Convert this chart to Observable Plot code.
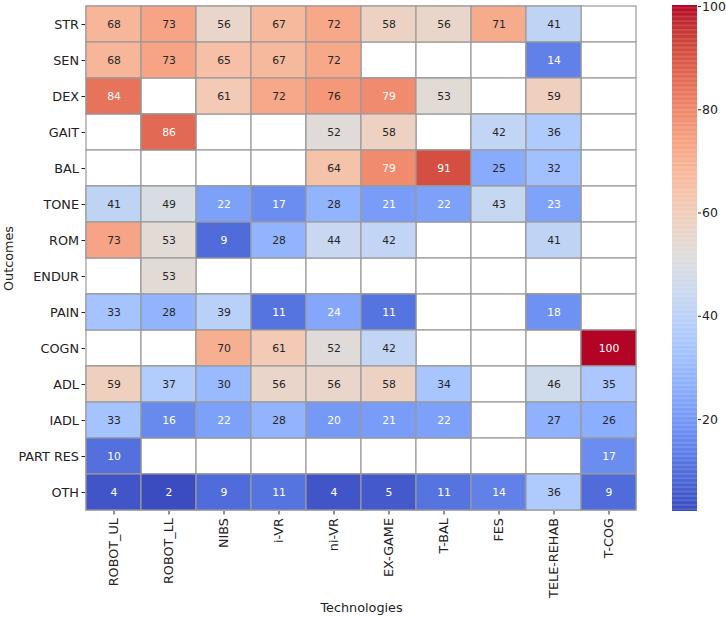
<!DOCTYPE html>
<html><head><meta charset="utf-8">
<script src="https://cdn.jsdelivr.net/npm/d3@7"></script>
<script src="https://cdn.jsdelivr.net/npm/@observablehq/plot@0.6"></script>
<style>
body{margin:0;background:#fff;font-family:"DejaVu Sans",sans-serif}
#wrap{position:relative;width:726px;height:617px}
#wrap svg{position:absolute;top:0}
</style>
</head><body><div id="wrap"></div><script>
const technologies = ["ROBOT_UL","ROBOT_LL","NIBS","i-VR","ni-VR","EX-GAME","T-BAL","FES","TELE-REHAB","T-COG"];
const outcomes = ["STR","SEN","DEX","GAIT","BAL","TONE","ROM","ENDUR","PAIN","COGN","ADL","IADL","PART RES","OTH"];
const STR   = [68,73,56,67,72,58,56,71,41,null];
const SEN   = [68,73,65,67,72,null,null,null,14,null];
const DEX   = [84,null,61,72,76,79,53,null,59,null];
const GAIT  = [null,86,null,null,52,58,null,42,36,null];
const BAL   = [null,null,null,null,64,79,91,25,32,null];
const TONE  = [41,49,22,17,28,21,22,43,23,null];
const ROM   = [73,53,9,28,44,42,null,null,41,null];
const ENDUR = [null,53,null,null,null,null,null,null,null,null];
const PAIN  = [33,28,39,11,24,11,null,null,18,null];
const COGN  = [null,null,70,61,52,42,null,null,null,100];
const ADL   = [59,37,30,56,56,58,34,null,46,35];
const IADL  = [33,16,22,28,20,21,22,null,27,26];
const PART_RES = [10,null,null,null,null,null,null,null,null,17];
const OTH   = [4,2,9,11,4,5,11,14,36,9];
const rows = [STR,SEN,DEX,GAIT,BAL,TONE,ROM,ENDUR,PAIN,COGN,ADL,IADL,PART_RES,OTH];
const colorTicks = [20,40,60,80,100];

// matplotlib "coolwarm" colormap stops
const coolwarm = [[59,76,192],[68,90,204],[77,104,215],[87,117,225],[98,130,234],[108,142,241],[119,154,247],[130,165,251],[141,176,254],[152,185,255],[163,194,255],[174,201,253],[184,208,249],[194,213,244],[204,217,238],[213,219,230],[221,221,221],[229,216,209],[236,211,197],[241,204,185],[245,196,173],[247,187,160],[247,177,148],[247,166,135],[244,154,123],[241,141,111],[236,127,99],[229,112,88],[222,96,77],[213,80,66],[203,62,56],[192,40,47],[180,4,38]].map(c => `rgb(${c[0]},${c[1]},${c[2]})`);
const interp = d3.piecewise(d3.interpolateRgb, coolwarm);

const table = [];
outcomes.forEach((o, i) => technologies.forEach((t, j) => table.push({outcome: o, tech: t, value: rows[i][j]})));
const filled = table.filter(d => d.value != null);

const vmin = 2, vmax = 100;
function lum(v) {
  const c = d3.rgb(interp((v - vmin) / (vmax - vmin)));
  const f = x => { x /= 255; return x <= 0.03928 ? x / 12.92 : Math.pow((x + 0.055) / 1.055, 2.4); };
  return 0.2126 * f(c.r) + 0.7152 * f(c.g) + 0.0722 * f(c.b);
}

const colorOpts = {type: "linear", domain: [vmin, vmax], interpolate: interp};
const font = "DejaVu Sans, sans-serif";

const main = Plot.plot({
  width: 726, height: 617,
  marginLeft: 85, marginRight: 89, marginTop: 5, marginBottom: 106,
  style: {fontFamily: font, fontSize: "13px", color: "#222", background: "transparent"},
  x: {domain: technologies, padding: 0},
  y: {domain: outcomes, padding: 0},
  color: colorOpts,
  marks: [
    Plot.cell(table, {x: "tech", y: "outcome", fill: "white", stroke: "#9a9a9a", strokeWidth: 1.2}),
    Plot.cell(filled, {x: "tech", y: "outcome", fill: "value", stroke: "#9a9a9a", strokeWidth: 1.2}),
    Plot.text(filled, {x: "tech", y: "outcome", text: d => String(d.value), fontSize: 10.8,
      fill: d => lum(d.value) > 0.408 ? "#262626" : "white"}),
    Plot.axisY({tickSize: 3.5, tickPadding: 3, fontSize: 12.8, label: "Outcomes", labelAnchor: "center", labelArrow: "none", labelOffset: 82}),
    Plot.axisX({tickSize: 3.5, tickPadding: 3, fontSize: 12.8, tickRotate: -90, label: "Technologies", labelAnchor: "center", labelArrow: "none", labelOffset: 100})
  ]
});
main.style.left = "0px";

const cb = Plot.plot({
  width: 54, height: 617,
  marginLeft: 0, marginRight: 29, marginTop: 5, marginBottom: 106,
  style: {fontFamily: font, fontSize: "12.5px", color: "#222", background: "transparent", overflow: "visible"},
  x: {domain: [0, 1], axis: null},
  y: {domain: [vmin, vmax], ticks: colorTicks},
  color: colorOpts,
  marks: [
    Plot.rect(d3.range(vmin, vmax, 0.25), {x1: 0, x2: 1, y1: d => d, y2: d => Math.min(d + 0.3, vmax), fill: d => d + 0.125}),
    Plot.axisY({anchor: "right", ticks: colorTicks, tickSize: 3, tickPadding: 1.5, label: null, dy: 1})
  ]
});
cb.style.left = "672px";

const wrap = document.getElementById("wrap");
wrap.appendChild(main);
wrap.appendChild(cb);
</script></body></html>
